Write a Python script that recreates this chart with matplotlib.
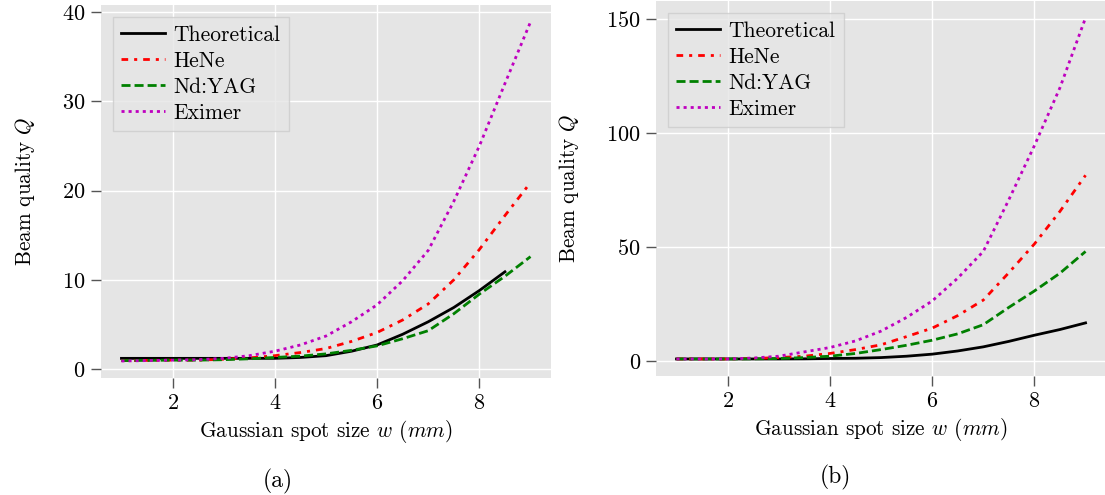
import matplotlib
matplotlib.use("Agg")
import matplotlib.pyplot as plt

# Gaussian spot size (mm)
spot = [1, 1.5, 2, 2.5, 3, 3.5, 4, 4.5, 5, 5.5, 6, 6.5, 7, 7.5, 8, 8.5, 9]

# (a) beam quality Q
theory_a = [1.2, 1.2, 1.2, 1.2, 1.2, 1.2, 1.2, 1.3, 1.5, 2.0, 2.7, 3.9, 5.3, 6.9, 8.8, 10.9]
hene_a = [0.95, 0.97, 1.0, 1.0, 1.1, 1.25, 1.5, 1.85, 2.3, 3.1, 4.1, 5.5, 7.3, 10.0, 13.4, 17.2, 20.9]
ndyag_a = [0.95, 0.97, 1.0, 1.0, 1.05, 1.15, 1.3, 1.45, 1.7, 2.1, 2.6, 3.4, 4.3, 6.2, 8.4, 10.4, 12.6]
eximer_a = [0.9, 0.95, 1.0, 1.05, 1.2, 1.5, 2.0, 2.7, 3.7, 5.3, 7.2, 9.9, 13.3, 18.8, 25.0, 32.0, 38.9]

# (b) beam quality Q
theory_b = [1.0, 1.0, 1.0, 1.0, 1.0, 1.05, 1.2, 1.3, 1.6, 2.2, 3.1, 4.5, 6.3, 8.7, 11.4, 13.9, 16.8]
hene_b = [1.0, 1.0, 1.0, 1.2, 1.6, 2.2, 3.4, 5.1, 7.2, 10.8, 14.5, 20.0, 26.8, 38.8, 51.4, 65.7, 81.5]
ndyag_b = [1.0, 1.0, 1.0, 1.05, 1.2, 1.6, 2.2, 3.4, 5.1, 7.0, 9.2, 12.0, 16.0, 23.6, 30.8, 38.6, 48.1]
eximer_b = [1.0, 1.0, 1.0, 1.4, 2.2, 4.1, 6.0, 8.9, 13.2, 19.2, 26.4, 36.4, 48.1, 70.8, 94.5, 119.9, 150.5]

labels = ["Theoretical", "HeNe", "Nd:YAG", "Eximer"]

plt.rcParams["font.family"] = "cmr10"
plt.rcParams["mathtext.fontset"] = "cm"
plt.rcParams["axes.formatter.use_mathtext"] = True
plt.rcParams["lines.scale_dashes"] = False

styles = [
    dict(color="black", linestyle="-"),
    dict(color="red", dashes=(4.8, 4.3, 2.2, 4.3)),
    dict(color="green", dashes=(6.5, 2.9)),
    dict(color="m", dashes=(2.2, 2.9)),
]


def draw_panel(ax, series, yticks, caption_xy, caption):
    ax.set_facecolor("#E5E5E5")
    for (x, y), lab, st in zip(series, labels, styles):
        ax.plot(x, y, lw=2, label=lab, **st)
    ax.set_xticks([2, 4, 6, 8])
    ax.set_yticks(yticks)
    ax.grid(True, color="white", lw=1)
    ax.set_axisbelow(True)
    for s in ax.spines.values():
        s.set_visible(False)
    ax.tick_params(direction="out", length=7, width=1, color="#555555",
                   labelcolor="black", labelsize=16, pad=4)
    ax.set_xlabel("Gaussian spot size $w$ $(mm)$", fontsize=15.3, labelpad=4)
    ax.set_ylabel("Beam quality $Q$", fontsize=15.3, labelpad=18)
    leg = ax.legend(loc="upper left", fontsize=15.5, borderaxespad=0.55,
                    handlelength=2.0, handletextpad=0.4, labelspacing=0.3,
                    fancybox=False)
    leg.get_frame().set_facecolor("#E5E5E5")
    leg.get_frame().set_edgecolor("#CCCCCC")
    ax.figure.text(caption_xy[0], caption_xy[1], caption, ha="center",
                   va="center", fontsize=17)


fig = plt.figure(figsize=(11.05, 4.95), dpi=100)
ax_a = fig.add_axes([0.0914, 0.2364, 0.4072, 0.7535])
ax_b = fig.add_axes([0.5937, 0.2404, 0.4072, 0.758])

draw_panel(ax_a,
           [(spot[:16], theory_a), (spot, hene_a), (spot, ndyag_a), (spot, eximer_a)],
           [0, 10, 20, 30, 40], (278 / 1105, 1 - 481 / 495), "(a)")
draw_panel(ax_b,
           [(spot, theory_b), (spot, hene_b), (spot, ndyag_b), (spot, eximer_b)],
           [0, 50, 100, 150], (835 / 1105, 1 - 477 / 495), "(b)")

fig.savefig("out.png", dpi=100)
